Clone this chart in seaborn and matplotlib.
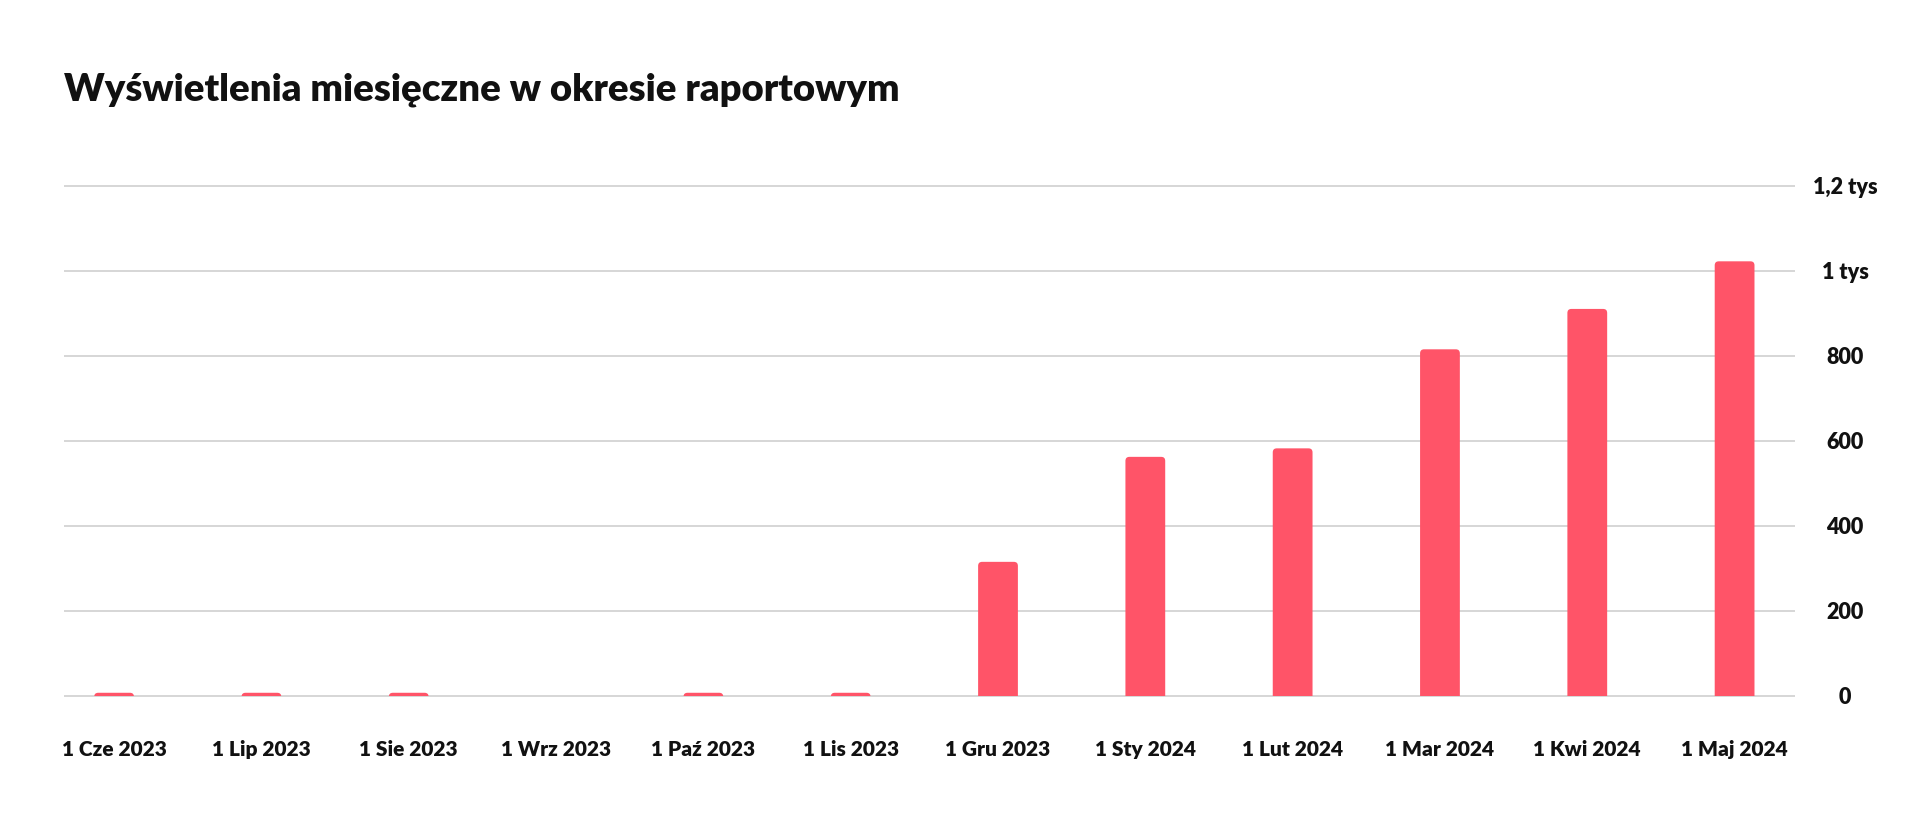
import matplotlib
matplotlib.use("Agg")
import matplotlib.pyplot as plt
from matplotlib.patches import FancyBboxPatch, Rectangle
import pandas as pd
import seaborn as sns

months = ['1 Cze 2023', '1 Lip 2023', '1 Sie 2023', '1 Wrz 2023', '1 Paź 2023', '1 Lis 2023',
          '1 Gru 2023', '1 Sty 2024', '1 Lut 2024', '1 Mar 2024', '1 Kwi 2024', '1 Maj 2024']
views = [7, 7, 7, 0, 7, 7, 315, 562, 582, 815, 910, 1022]
y_ticks = [0, 200, 400, 600, 800, 1000, 1200]
y_labels = ['0', '200', '400', '600', '800', '1 tys', '1,2 tys']

df = pd.DataFrame({'month': months, 'views': views})

sns.set_style('white')
plt.rcParams['font.family'] = ['Lato', 'DejaVu Sans']

fig = plt.figure(figsize=(19.2, 8.38), dpi=100)
W, H = 1920, 838
# axes box in pixels: x 64..1795, y 181..700
ax = fig.add_axes([64 / W, 1 - 700 / H, (1795 - 64) / W, (700 - 181.4) / H])

bar_color = '#ff5468'
sns.barplot(data=df, x='month', y='views', color=bar_color, width=0.27,
            saturation=1, ax=ax, zorder=3)

ax.set_xlim(-0.34, 11.41)
ax.set_ylim(-10, 1210)

# round the top corners of the bars
clip = Rectangle((-1, 0), 14, 2000, transform=ax.transData)
px_per_unit_x = (1795 - 64) / 11.75
px_per_unit_y = (700 - 181.4) / 1220
r = 4 / px_per_unit_x
for p in list(ax.patches):
    x, y = p.get_x(), p.get_y()
    w, h = p.get_width(), p.get_height()
    p.remove()
    if h <= 0:
        continue
    fb = FancyBboxPatch((x, y - 10), w, h + 10,
                        boxstyle=f'round,pad=0,rounding_size={r}',
                        mutation_aspect=px_per_unit_x / px_per_unit_y,
                        facecolor=bar_color, edgecolor='none', zorder=3)
    ax.add_patch(fb)
    fb.set_clip_path(clip)

for s in ax.spines.values():
    s.set_visible(False)

ax.set_yticks(y_ticks)
ax.set_yticklabels(y_labels)
ax.yaxis.tick_right()
ax.grid(axis='y', color='#d0d0d0', linewidth=1.2, zorder=0)
ax.grid(axis='x', visible=False)
ax.tick_params(axis='y', length=0, pad=36, labelsize=15.5, labelcolor='#111111')
ax.tick_params(axis='x', length=0, pad=29, labelsize=15, labelcolor='#111111')
for lab in ax.get_yticklabels():
    lab.set_horizontalalignment('center')
    lab.set_fontweight('heavy')
for lab in ax.get_xticklabels():
    lab.set_fontweight('heavy')
ax.set_xlabel('')
ax.set_ylabel('')

fig.text(64 / W, 1 - 90 / H, 'Wyświetlenia miesięczne w okresie raportowym',
         fontsize=27.5, fontweight='heavy', va='center', ha='left', color='#111111')

fig.savefig('out.png', dpi=100, facecolor='white')
